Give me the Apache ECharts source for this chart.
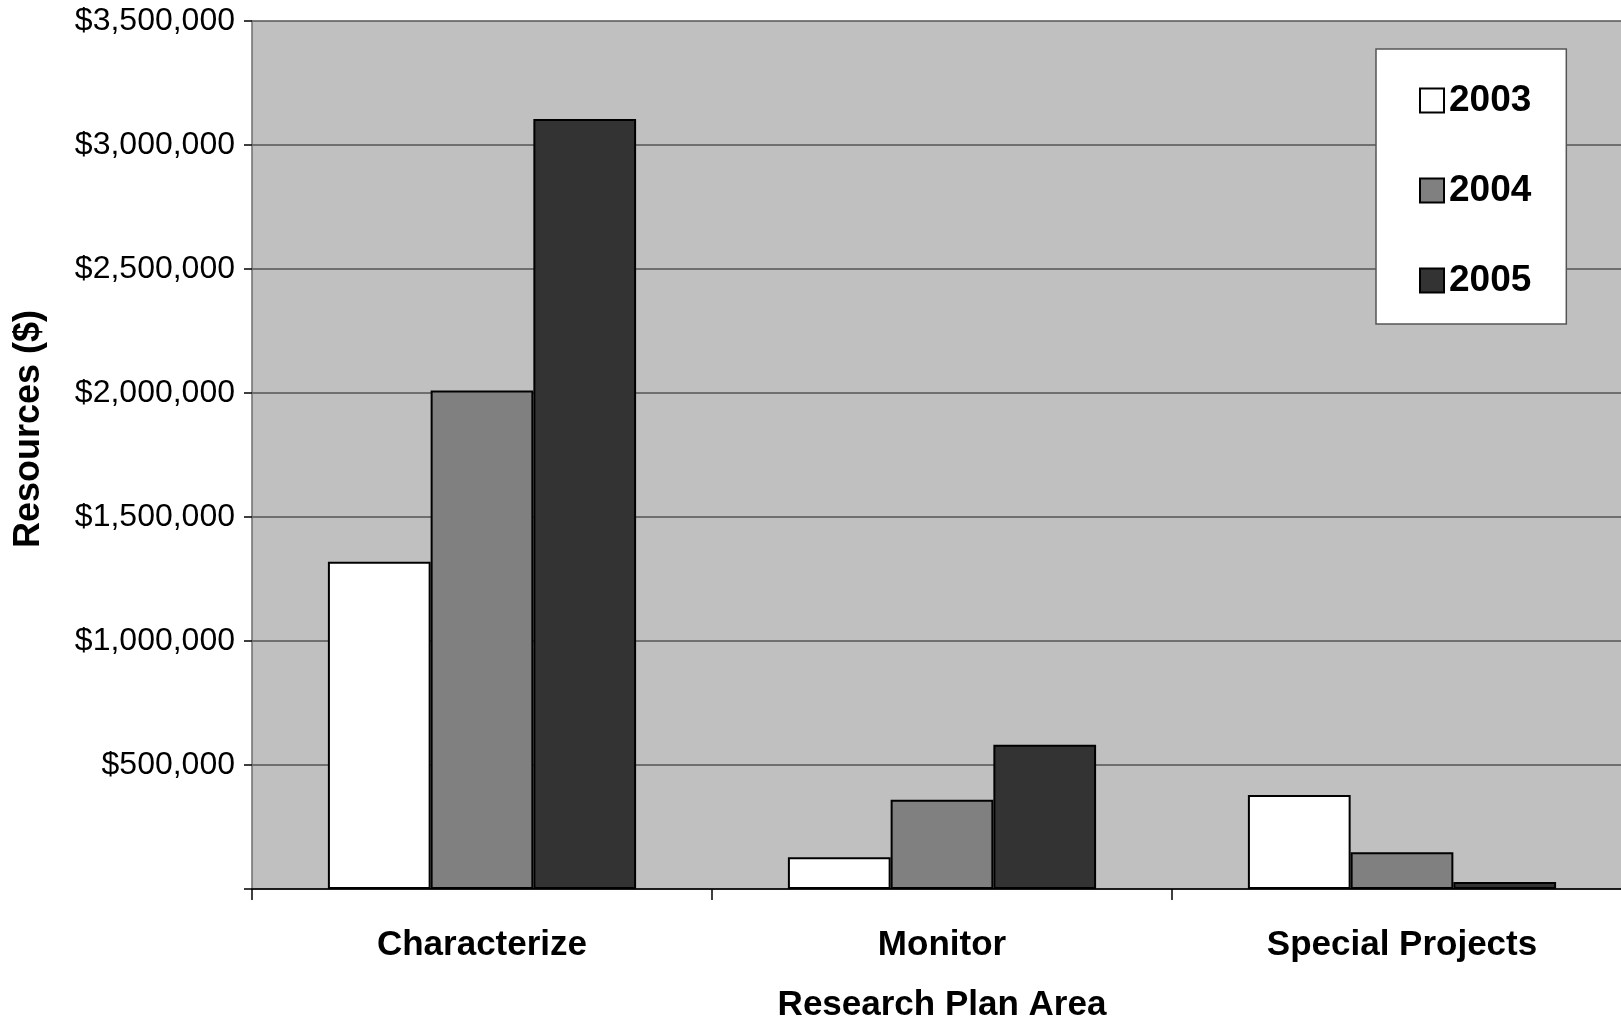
<!DOCTYPE html>
<html>
<head>
<meta charset="utf-8">
<script src="https://cdn.jsdelivr.net/npm/echarts@6/dist/echarts.min.js"></script>
<style>
  html, body { margin: 0; padding: 0; background: #ffffff; overflow: hidden; }
  #chart { width: 1632px; height: 1019px; }
</style>
</head>
<body>
<div id="chart"></div>
<script>
// Resources by research plan area, per fiscal year
const categories = ['Characterize', 'Monitor', 'Special Projects'];
const years = ['2003', '2004', '2005'];
const values2003 = [1320000, 128000, 379000];
const values2004 = [2010000, 360000, 148000];
const values2005 = [3105000, 582000, 28000];
const yTicks = { min: 0, max: 3500000, interval: 500000 };

const FONT = '"Liberation Sans", Arial, Helvetica, sans-serif';
const fills = ['#ffffff', '#808080', '#333333'];
const seriesValues = [values2003, values2004, values2005];

const chart = echarts.init(document.getElementById('chart'), null, { renderer: 'canvas' });

chart.setOption({
  animation: false,
  backgroundColor: '#ffffff',
  textStyle: { fontFamily: FONT, color: '#000' },
  grid: {
    left: 252, top: 21, right: 0, bottom: 130,
    outerBoundsMode: 'none',
    containLabel: false,
    show: true, backgroundColor: '#c0c0c0', borderWidth: 0
  },
  legend: {
    orient: 'vertical',
    left: 1376, top: 49,
    padding: [33, 35, 25, 43],
    itemGap: 53,
    itemWidth: 24, itemHeight: 24,
    itemTextGap: 16,
    icon: 'rect',
    backgroundColor: '#ffffff',
    borderColor: '#555555', borderWidth: 1.5,
    textStyle: { fontFamily: FONT, fontSize: 37, fontWeight: 'bold', color: '#000', lineHeight: 36 },
    data: years
  },
  xAxis: {
    type: 'category',
    data: categories,
    name: 'Research Plan Area',
    nameLocation: 'middle',
    nameGap: 99,
    nameTextStyle: { fontFamily: FONT, fontSize: 35, fontWeight: 'bold', color: '#000' },
    axisLine: { show: true, lineStyle: { color: '#000', width: 1.5 } },
    axisTick: { show: true, alignWithLabel: false, length: 11, lineStyle: { color: '#000', width: 1.5 } },
    axisLabel: { margin: 39, fontFamily: FONT, fontSize: 35, fontWeight: 'bold', color: '#000' }
  },
  yAxis: {
    type: 'value',
    min: yTicks.min, max: yTicks.max, interval: yTicks.interval,
    axisLine: { show: true, lineStyle: { color: '#6e6e6e', width: 1.5 } },
    axisTick: { show: true, length: 8, lineStyle: { color: '#000', width: 1.5 } },
    splitLine: { show: true, lineStyle: { color: '#555555', width: 1.5 } },
    axisLabel: {
      margin: 17,
      fontFamily: FONT, fontSize: 32, color: '#000',
      formatter: v => v === 0 ? '' : '$' + v.toLocaleString('en-US')
    }
  },
  graphic: [{
    type: 'text',
    x: 29, y: 429,
    rotation: Math.PI / 2,
    style: {
      text: 'Resources ($)',
      font: 'bold 36px ' + FONT,
      fill: '#000',
      textAlign: 'center',
      textVerticalAlign: 'middle'
    }
  }],
  series: years.map((y, i) => ({
    name: y,
    type: 'bar',
    data: seriesValues[i],
    barGap: '0%',
    barCategoryGap: '33%',
    itemStyle: { color: fills[i], borderColor: '#000', borderWidth: 2 }
  }))
});
</script>
</body>
</html>
